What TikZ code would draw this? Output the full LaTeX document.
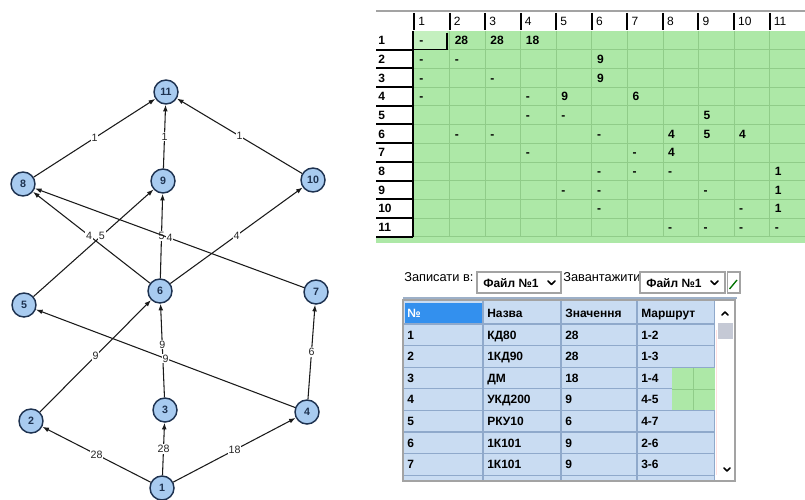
\documentclass[tikz,border=0pt]{standalone}
\usepackage{fontspec}
\setmainfont{Liberation Sans}
\usetikzlibrary{arrows.meta}
\definecolor{nodefill}{HTML}{A8CBF0}
\definecolor{nodeline}{HTML}{1E3250}
\definecolor{edgecol}{HTML}{1A1A1A}
\definecolor{gridgreen}{HTML}{ADE8A7}
\definecolor{gridgreenlt}{HTML}{C4F0BF}
\definecolor{gridline}{HTML}{90CC89}
\definecolor{cellblue}{HTML}{C9DCF2}
\definecolor{celline}{HTML}{8FA9CB}
\definecolor{selblue}{HTML}{3390EE}
\definecolor{framegray}{HTML}{A3A3A3}
\definecolor{barline}{HTML}{9DB0C8}
\definecolor{thumbgray}{HTML}{C5C9D5}
\begin{document}
\begin{tikzpicture}[x=0.75pt,y=-0.75pt,
  vertex/.style={circle,draw=nodeline,fill=nodefill,line width=1.1pt,minimum size=18pt,
    inner sep=0pt,font=\bfseries\fontsize{8}{8}\selectfont,text=nodeline},
  edge/.style={draw=edgecol,line width=0.8pt,-{Latex[length=5pt,width=3.6pt]}},
  wlabel/.style={fill=white,inner sep=0.6pt,font=\fontsize{8}{8}\selectfont,text=black!85},
  cell/.style={anchor=west,inner sep=0pt,text height=6.5pt,text depth=0pt,
    font=\bfseries\fontsize{9}{9}\selectfont},
  plain/.style={anchor=west,inner sep=0pt,text height=7pt,text depth=0pt,
    font=\fontsize{9.6}{10}\selectfont},
  chev/.style={draw=black,line width=1.1pt,line cap=round,line join=round},
]
\useasboundingbox (0,0) rectangle (805,499);

% ---------------- graph ----------------
\node[vertex] (n1)  at (162,488) {1};
\node[vertex] (n2)  at (31,421)  {2};
\node[vertex] (n3)  at (165,410) {3};
\node[vertex] (n4)  at (307,412) {4};
\node[vertex] (n5)  at (24,305)  {5};
\node[vertex] (n6)  at (160,291) {6};
\node[vertex] (n7)  at (316,292) {7};
\node[vertex] (n8)  at (23,184)  {8};
\node[vertex] (n9)  at (163,181) {9};
\node[vertex] (n10) at (313,180) {10};
\node[vertex] (n11) at (166,92)  {11};

\draw[edge] (n1) -- node[wlabel] (l12) {28} (n2);
\draw[edge] (n1) -- node[wlabel] (l13) {28} (n3);
\draw[edge] (n1) -- node[wlabel] (l14) {18} (n4);
\draw[edge] (n2) -- node[wlabel] (l26) {9} (n6);
\draw[edge] (n3) -- node[wlabel,pos=0.56] (l36) {9} (n6);
\draw[edge] (n4) -- node[wlabel] (l45) {9} (n5);
\draw[edge] (n4) -- node[wlabel] (l47) {6} (n7);
\draw[edge] (n5) -- node[wlabel,pos=0.57] (l59) {5} (n9);
\draw[edge] (n6) -- node[wlabel,pos=0.52] (l68) {4} (n8);
\draw[edge] (n6) -- node[wlabel] (l69) {5} (n9);
\draw[edge] (n7) -- node[wlabel] (l78) {4} (n8);
\draw[edge] (n6) -- node[wlabel] (l610) {4} (n10);
\draw[edge] (n8) -- node[wlabel] (l811) {1} (n11);
\draw[edge] (n9) -- node[wlabel] (l911) {1} (n11);
\draw[edge] (n10) -- node[wlabel] (l1011) {1} (n11);

% ---------------- adjacency grid ----------------
\draw[framegray,line width=1.5pt] (376,11) -- (805,11);
\fill[gridgreen] (376,31) rectangle (805,243);
\fill[white] (376,31) rectangle (413,236.7);
\fill[gridgreenlt] (414,31) rectangle (447,49.7);
\foreach \c in {1,...,11}
  \draw[gridline,line width=0.5pt] ({414+\c*35.55},31) -- ({414+\c*35.55},236.7);
\foreach \r in {1,...,11}
  \draw[gridline,line width=0.5pt] (414,{31+\r*18.7}) -- (805,{31+\r*18.7});
% column headers
\foreach \c in {1,...,11} {
  \draw[black,line width=1.5pt] ({414+(\c-1)*35.55},13) -- ({414+(\c-1)*35.55},30);
  \node[cell,font=\fontsize{9}{9}\selectfont] (h\c) at ({414+(\c-1)*35.55+4},21) {\c};
}
% row headers
\draw[black,line width=1.5pt] (413,31) -- (413,236.7);
\foreach \r in {1,...,11} {
  \draw[black,line width=1.5pt] (376,{31+\r*18.7}) -- (413,{31+\r*18.7});
  \node[cell] (rh\r) at (378,{31+(\r-0.5)*18.7}) {\r};
}
% focused cell
\draw[black,line width=1.2pt] (414,49.7) -- (447,49.7) -- (447,33);
% cell values
\foreach \r/\c/\t in {1/1/-,1/2/28,1/3/28,1/4/18,
    2/1/-,2/2/-,2/6/9,
    3/1/-,3/3/-,3/6/9,
    4/1/-,4/4/-,4/5/9,4/7/6,
    5/4/-,5/5/-,5/9/5,
    6/2/-,6/3/-,6/6/-,6/8/4,6/9/5,6/10/4,
    7/4/-,7/7/-,7/8/4,
    8/6/-,8/7/-,8/8/-,8/11/1,
    9/5/-,9/6/-,9/9/-,9/11/1,
    10/6/-,10/10/-,10/11/1,
    11/8/-,11/9/-,11/10/-,11/11/-}
  \node[cell] (m\r-\c) at ({414+(\c-1)*35.55+5},{31+(\r-0.5)*18.7}) {\t};

% ---------------- toolbar ----------------
\node[plain] (lblsave) at (404,277) {Записати в:};
\draw[framegray,fill=white,line width=0.8pt] (477,272) rectangle (561,293);
\node[cell] (cb1) at (483,283) {Файл №1};
\draw[chev] (548,281) -- (551.5,284.5) -- (555,281);
\begin{scope}
  \clip (561,260) rectangle (639.5,295);
  \node[plain] (lblload) at (563,277) {Завантажити:};
\end{scope}
\draw[framegray,fill=white,line width=0.8pt] (640,272) rectangle (725,293);
\node[cell] (cb2) at (646,283) {Файл №1};
\draw[chev] (711,281) -- (714.5,284.5) -- (718,281);
\draw[framegray,fill=white,line width=0.8pt] (727.5,272) rectangle (740,293);
\draw[green!45!black,line width=1pt] (729.5,289) -- (737,280);
\draw[barline,line width=1.5pt] (403,297.5) -- (737,297.5);

% ---------------- records table ----------------
\fill[cellblue] (403,300) rectangle (715,481);
\fill[selblue] (404.5,302.5) rectangle (482.5,323.5);
\foreach \x in {483,561,637,715}
  \draw[celline,line width=0.8pt] (\x,301) -- (\x,480);
\draw[celline,line width=0.8pt] (403,324) -- (715,324);
\foreach \r in {1,...,7}
  \draw[celline,line width=0.8pt] (403,{324+\r*21.6}) -- (715,{324+\r*21.6});
% a piece of the grid behind the table
\fill[gridgreen] (672,367.6) rectangle (714.6,410.4);
\draw[gridline,line width=0.6pt] (693,367.6) -- (693,410.4);
\draw[gridline,line width=0.6pt] (672,389) -- (714.6,389);
% header
\node[cell,text=white] (th1) at (407,313) {№};
\node[cell] (th2) at (487,313) {Назва};
\node[cell] (th3) at (565,313) {Значення};
\node[cell] (th4) at (641,313) {Маршрут};
% rows
\foreach \i/\a/\b/\v/\p in {1/1/КД80/28/1-2, 2/2/1КД90/28/1-3, 3/3/ДМ/18/1-4,
    4/4/УКД200/9/4-5, 5/5/РКУ10/6/4-7, 6/6/1К101/9/2-6, 7/7/1К101/9/3-6} {
  \node[cell] (ta\i) at (407,{324+(\i-0.5)*21.6}) {\a};
  \node[cell] (tb\i) at (487,{324+(\i-0.5)*21.6}) {\b};
  \node[cell] (tc\i) at (565,{324+(\i-0.5)*21.6}) {\v};
  \node[cell] (td\i) at (641,{324+(\i-0.5)*21.6}) {\p};
}
% scrollbar
\fill[white] (715.4,301) rectangle (734.6,480);
\draw[red!12,line width=0.8pt] (716.5,330) -- (716.5,475);
\fill[thumbgray] (717.5,323) rectangle (733,339);
\draw[chev] (722,315) -- (725,312) -- (728,315);
\draw[chev] (724,468) -- (727,471) -- (730,468);
\draw[framegray,line width=0.8pt] (403,300) rectangle (735,481);
\end{tikzpicture}
\end{document}
